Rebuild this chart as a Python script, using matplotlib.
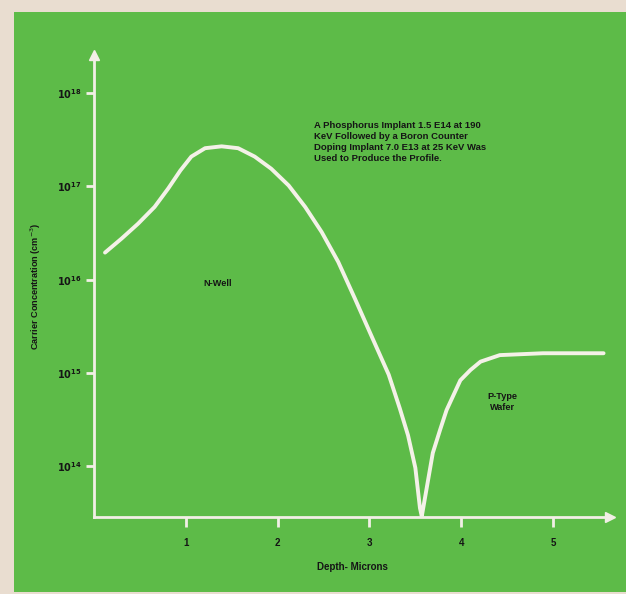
import numpy as np
import matplotlib
matplotlib.use("Agg")
import matplotlib.pyplot as plt
from matplotlib.patches import Rectangle

# Carrier profile (depth in microns, log10 of concentration in cm^-3)
depth = [0.12, 0.30, 0.48, 0.66, 0.81, 0.94, 1.06, 1.21, 1.39, 1.57, 1.75,
         1.93, 2.12, 2.30, 2.48, 2.66, 2.84, 3.02, 3.21, 3.33, 3.42, 3.50,
         3.55, 3.57, 3.60, 3.69, 3.77, 3.84, 3.99, 4.10, 4.21, 4.42, 4.89,
         5.55]
log_conc = [16.29, 16.44, 16.60, 16.78, 16.98, 17.17, 17.32, 17.41, 17.43,
            17.41, 17.32, 17.19, 17.01, 16.78, 16.51, 16.19, 15.80, 15.40,
            14.98, 14.62, 14.33, 13.98, 13.55, 13.46, 13.63, 14.14, 14.39,
            14.60, 14.92, 15.03, 15.12, 15.19, 15.21, 15.21]

x_ticks = [1, 2, 3, 4, 5]
y_decades = [14, 15, 16, 17, 18]

note = ("A Phosphorus Implant 1.5 E14 at 190\n"
        "KeV Followed by a Boron Counter\n"
        "Doping Implant 7.0 E13 at 25 KeV Was\n"
        "Used to Produce the Profile.")

green = "#5dbb48"
paper = "#e9ddd0"
ink = "#151515"
chalk = "#f2efe6"
plt.rcParams['font.family'] = ['Liberation Sans', 'DejaVu Sans']

fig = plt.figure(figsize=(6.26, 5.94), dpi=100)
fig.patch.set_facecolor(paper)

# green board behind the plot
bg = fig.add_axes([14 / 626, 0.003, 1.0, 1 - 12 / 594 - 0.003], zorder=-5)
bg.set_axis_off()
bg.add_patch(Rectangle((0, 0), 1, 1, transform=bg.transAxes, color=green))

ax = fig.add_axes([94 / 626, 1 - 517 / 594, 516 / 626, 462 / 594])
ax.set_facecolor("none")
ax.set_yscale("log")
ax.set_xlim(0, 5.62)
ax.set_ylim(10 ** 13.453, 10 ** 18.41)

conc = [10 ** v for v in log_conc]
ax.plot(depth, conc, color="#f4f1e8", lw=2.8, solid_capstyle="round",
        solid_joinstyle="round")

for side in ("top", "right"):
    ax.spines[side].set_visible(False)
for side in ("left", "bottom"):
    ax.spines[side].set_color(chalk)
    ax.spines[side].set_linewidth(2)

# arrow heads on both axes
ax.plot(1, 0, ">", transform=ax.transAxes, color=chalk, ms=7, clip_on=False)
ax.plot(0, 1, "^", transform=ax.transAxes, color=chalk, ms=7, clip_on=False)

ax.set_xticks(x_ticks)
ax.set_xticklabels([str(t) for t in x_ticks], fontsize=7, fontweight="bold")
ax.set_yticks([10 ** d for d in y_decades])
ax.set_yticklabels([r"$\mathbf{10^{%d}}$" % d for d in y_decades], fontsize=7)
ax.yaxis.set_minor_locator(matplotlib.ticker.NullLocator())
ax.tick_params(axis="both", colors=chalk, width=2, length=7,
               labelcolor=ink, pad=8)
ax.tick_params(axis="y", length=6, pad=3)

ax.set_xlabel("Depth- Microns", fontsize=7, fontweight="bold", labelpad=10,
              color=ink)
ax.set_ylabel("Carrier Concentration (cm$^{-3}$)", fontsize=6.6,
              fontweight="bold", labelpad=10, color=ink)

ax.text(2.40, 10 ** 17.70, note, fontsize=6.8, fontweight="bold",
        color=ink, va="top", ha="left", linespacing=1.3)
ax.text(1.35, 10 ** 15.96, "N-Well", fontsize=6.6, fontweight="bold",
        color=ink, ha="center", va="center")
ax.text(4.45, 10 ** 14.69, "P-Type\nWafer", fontsize=6.6, fontweight="bold",
        color=ink, ha="center", va="center", linespacing=1.25)

fig.savefig("out.png", dpi=100, facecolor=fig.get_facecolor())
